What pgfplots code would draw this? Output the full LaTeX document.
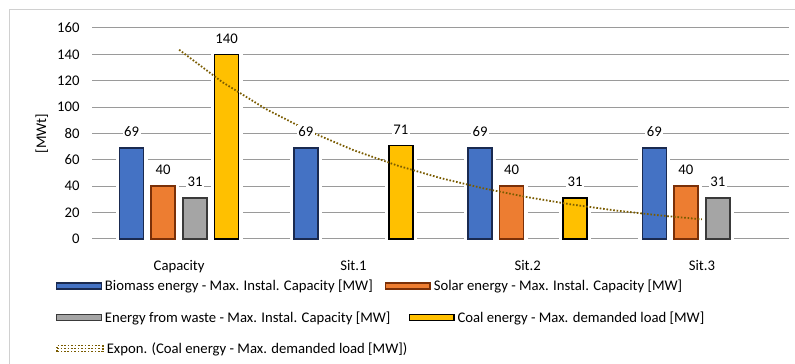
\documentclass[border=0pt]{standalone}
\usepackage{pgfplots}
\pgfplotsset{compat=1.18}
\usepackage{fontspec}
\setmainfont{Carlito}
\definecolor{cBlue}{HTML}{4472C4}
\definecolor{cBlueD}{HTML}{1A2A50}
\definecolor{cOrange}{HTML}{ED7D31}
\definecolor{cOrangeD}{HTML}{7A3008}
\definecolor{cGray}{HTML}{A5A5A5}
\definecolor{cGrayD}{HTML}{3A3A3A}
\definecolor{cYellow}{HTML}{FFC000}
\definecolor{cTrend}{HTML}{7A5C00}
\definecolor{cGrid}{HTML}{9A9A9A}
\definecolor{cFrame}{HTML}{D0D0D0}
\begin{document}
\begin{tikzpicture}[font=\fontsize{14.7bp}{17.6bp}\selectfont]
\useasboundingbox (0,0) rectangle (795bp,364bp);
\fill[white] (0,0) rectangle (795bp,364bp);
\draw[cFrame, line width=1bp] (9bp,-5bp) rectangle (805bp,354bp);
\pgfplotsset{
  base/.style={scale only axis, width=697bp, height=211bp, at={(92bp,125bp)},
    anchor=south west, xmin=-0.5, xmax=3.5, ymin=0, ymax=160},
  barbase/.style={line width=1.5bp, bar width=24bp,
    preaction={draw=white, line width=8bp},
    nodes near coords,
    every node near coord/.append style={fill=white, inner sep=1.5bp, yshift=9bp, text=black}},
  trendstyle/.style={cTrend, line width=1.8bp, dash pattern=on 1.6bp off 1.8bp},
  legbase/.style={draw=none, fill=none, inner sep=0pt, outer sep=0pt, anchor=west,
    nodes={inner sep=0bp}, /tikz/every odd column/.append style={column sep=3bp}},
  barleg/.style={legend image code/.code={%
    \draw[##1] (0.75bp,-3bp) rectangle (45.25bp,3bp);}},
}
\begin{axis}[base,
  ybar,
  axis line style={draw=none}, tick style={draw=none},
  ytick={0,20,...,160},
  ymajorgrids, grid style={cGrid, line width=1bp},
  xtick={0,1,2,3}, xticklabels={Capacity, Sit.1, Sit.2, Sit.3},
  xticklabel style={yshift=-14bp},
  yticklabel style={xshift=-9bp},
  /pgf/number format/assume math mode=true,
  ylabel={[MWt]},
  y label style={at={(axis description cs:-0.072,0.5)}, anchor=center},
  clip=false,
]
\addplot[barbase, fill=cBlue, draw=cBlueD, bar shift=-47.5bp] coordinates {(0,69) (1,69) (2,69) (3,69)};
\addplot[barbase, fill=cOrange, draw=cOrangeD, bar shift=-16bp] coordinates {(0,40) (2,40) (3,40)};
\addplot[barbase, fill=cGray, draw=cGrayD, bar shift=16bp] coordinates {(0,31) (3,31)};
\addplot[barbase, fill=cYellow, draw=black, bar shift=47.5bp] coordinates {(0,140) (1,71) (2,31)};
\addplot[trendstyle, sharp plot, forget plot] coordinates {
 (0,143.5) (0.25,118.8) (0.5,98.4) (0.75,81.5) (1,67.4) (1.25,55.8) (1.5,46.2)
 (1.75,38.3) (2,31.7) (2.25,26.2) (2.5,21.7) (2.75,18.0) (3,14.9)};
\end{axis}
\begin{axis}[base, hide axis, legend columns=2, barleg,
  legend style={legbase, at={(-0.05165,-0.2227)}, /tikz/every even column/.append style={column sep=12bp}}]
\addlegendimage{fill=cBlue, draw=cBlueD, line width=1.5bp}
\addlegendentry{Biomass energy - Max. Instal. Capacity [MW]}
\addlegendimage{fill=cOrange, draw=cOrangeD, line width=1.5bp}
\addlegendentry{Solar energy - Max. Instal. Capacity [MW]}
\end{axis}
\begin{axis}[base, hide axis, legend columns=2, barleg,
  legend style={legbase, at={(-0.05165,-0.372)}, /tikz/every even column/.append style={column sep=18bp}}]
\addlegendimage{fill=cGray, draw=cGrayD, line width=1.5bp}
\addlegendentry{Energy from waste - Max. Instal. Capacity [MW]}
\addlegendimage{fill=cYellow, draw=black, line width=1.5bp}
\addlegendentry{Coal energy - Max. demanded load [MW]}
\end{axis}
\begin{axis}[base, hide axis,
  legend image code/.code={\draw[#1] (0.5bp,0bp) -- (45bp,0bp); \path (0bp,-3bp) rectangle (46bp,3bp);},
  legend style={legbase, at={(-0.05165,-0.519)}}]
\addlegendimage{trendstyle}
\addlegendentry{Expon. (Coal energy - Max. demanded load [MW])}
\end{axis}
\end{tikzpicture}
\end{document}
